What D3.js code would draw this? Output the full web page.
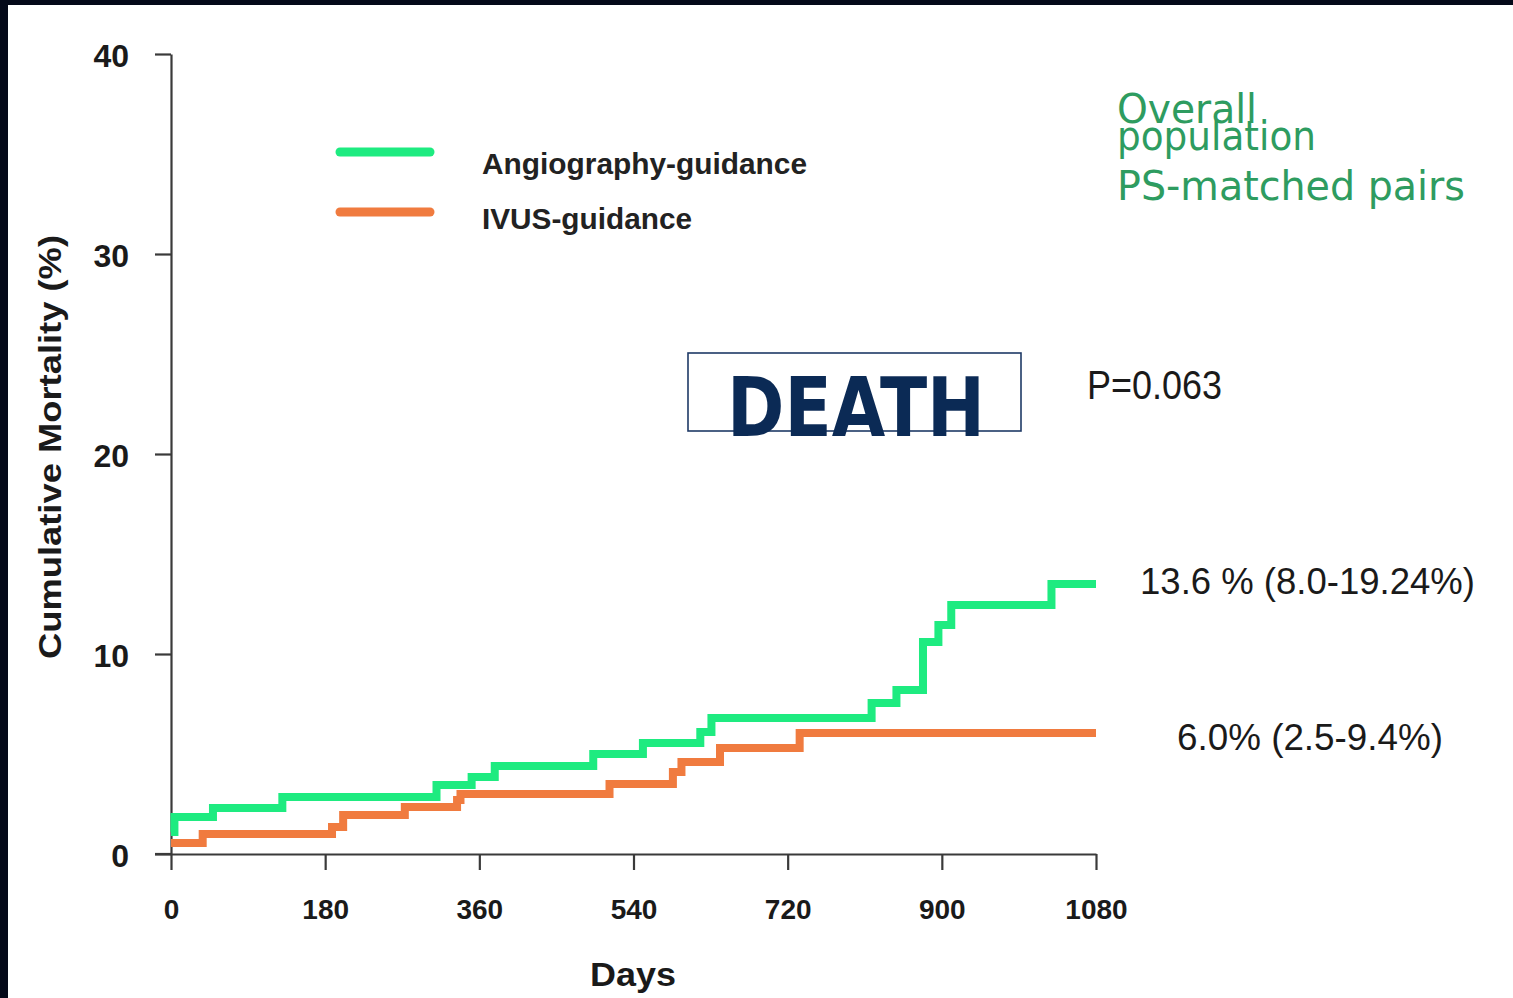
<!DOCTYPE html>
<html><head><meta charset="utf-8">
<script src="https://cdn.jsdelivr.net/npm/d3@7"></script>
<style>
html,body{margin:0;padding:0;background:#fff;overflow:hidden}
svg{display:block}
</style></head>
<body>
<svg id="chart" width="1513" height="998"></svg>
<script>
// ---- data ----
const xTicks = [0, 180, 360, 540, 720, 900, 1080];
const yTicks = [0, 10, 20, 30, 40];
const angioDays = [0, 4, 49, 130, 310, 351, 378, 493, 551, 618, 631, 818, 847, 878, 896, 911, 1028, 1080];
const angioVals = [1.1, 1.85, 2.3, 2.85, 3.45, 3.85, 4.4, 5.0, 5.55, 6.1, 6.8, 7.55, 8.2, 10.6, 11.45, 12.45, 13.5, 13.5];
const ivusDays = [0, 37, 188, 201, 273, 334, 338, 512, 586, 596, 641, 734, 1080];
const ivusVals = [0.55, 1.0, 1.35, 1.95, 2.35, 2.7, 3.0, 3.5, 4.1, 4.6, 5.3, 6.05, 6.05];
const seriesNames = ["Angiography-guidance", "IVUS-guidance"];
const seriesColors = ["#1EEB80", "#F07B3F"];
const endLabels = ["13.6 % (8.0-19.24%)", "6.0% (2.5-9.4%)"];
const pValue = "P=0.063";
const titleBox = "DEATH";
const noteLines = ["Overall", "population", "PS-matched pairs"];

const svg = d3.select("#chart");
// dark frame on top and left
svg.append("rect").attr("x",0).attr("y",0).attr("width",1513).attr("height",5).attr("fill","#040919");
svg.append("rect").attr("x",0).attr("y",0).attr("width",8).attr("height",998).attr("fill","#040919");

const x = d3.scaleLinear().domain([0,1080]).range([171,1096]);
const y = d3.scaleLinear().domain([0,40]).range([854,54]);

const axisColor = "#3a3a3a";
const gy = svg.append("g").attr("transform","translate(171,0)")
  .call(d3.axisLeft(y).tickValues(yTicks).tickSize(16).tickSizeOuter(0).tickPadding(26));
gy.select(".domain").attr("stroke",axisColor).attr("stroke-width",2.2);
gy.selectAll(".tick line").attr("stroke",axisColor).attr("stroke-width",2.2);
gy.selectAll(".tick text").attr("font-family","Liberation Sans, Arial, sans-serif")
  .attr("font-weight","bold").attr("font-size",32).attr("fill","#1a1a1a").attr("dy","0.4em");

const gx = svg.append("g").attr("transform","translate(0,854)")
  .call(d3.axisBottom(x).tickValues(xTicks).tickFormat(d3.format("d")).tickSize(16).tickSizeOuter(0).tickPadding(29));
gx.select(".domain").attr("stroke",axisColor).attr("stroke-width",2.2);
gx.selectAll(".tick line").attr("stroke",axisColor).attr("stroke-width",2.2);
gx.selectAll(".tick text").attr("font-family","Liberation Sans, Arial, sans-serif")
  .attr("font-weight","bold").attr("font-size",28).attr("fill","#1a1a1a").attr("dy","0.71em");
// extend x axis line to the left like the reference
svg.append("line").attr("x1",155).attr("x2",171).attr("y1",854).attr("y2",854)
  .attr("stroke",axisColor).attr("stroke-width",2.2);

// axis titles
svg.append("text").attr("transform","translate(61,447) rotate(-90)")
  .attr("text-anchor","middle").attr("font-family","Liberation Sans, Arial, sans-serif")
  .attr("font-size",32).attr("fill","#1a1a1a").attr("font-weight","bold")
  .attr("textLength",424).attr("lengthAdjust","spacingAndGlyphs")
  .text("Cumulative Mortality (%)");
svg.append("text").attr("x",633).attr("y",986).attr("text-anchor","middle")
  .attr("font-family","Liberation Sans, Arial, sans-serif").attr("font-weight","bold")
  .attr("font-size",34).attr("fill","#1a1a1a")
  .attr("textLength",86).attr("lengthAdjust","spacingAndGlyphs").text("Days");

// curves
const line = d3.line().x(d=>x(d[0])).y(d=>y(d[1])).curve(d3.curveStepAfter);
const series = [d3.zip(angioDays, angioVals), d3.zip(ivusDays, ivusVals)];
// draw orange first, green on top
[1,0].forEach(i=>{
  svg.append("path").datum(series[i]).attr("d",line)
    .attr("fill","none").attr("stroke",seriesColors[i]).attr("stroke-width",8)
    .attr("stroke-linejoin","miter");
});

// legend
const legY = [152, 212];
const legTextY = [174, 229];
const legLen = [325, 210];
seriesNames.forEach((n,i)=>{
  svg.append("line").attr("x1",340).attr("x2",430).attr("y1",legY[i]).attr("y2",legY[i])
    .attr("stroke",seriesColors[i]).attr("stroke-width",9).attr("stroke-linecap","round");
  svg.append("text").attr("x",482).attr("y",legTextY[i])
    .attr("font-family","Liberation Sans, Arial, sans-serif").attr("font-weight","bold")
    .attr("font-size",29).attr("fill","#222")
    .attr("textLength",legLen[i]).attr("lengthAdjust","spacingAndGlyphs").text(n);
});

// DEATH box
svg.append("rect").attr("x",688).attr("y",353).attr("width",333).attr("height",78)
  .attr("fill","none").attr("stroke","#1F3A66").attr("stroke-width",1.6);
svg.append("text").attr("x",727).attr("y",436)
  .attr("font-family","'Comic Sans MS', 'DejaVu Sans', sans-serif").attr("font-weight","bold")
  .attr("font-size",82).attr("fill","#0B2A55")
  .attr("textLength",258).attr("lengthAdjust","spacingAndGlyphs").text(titleBox);

// P value
svg.append("text").attr("x",1087).attr("y",399)
  .attr("font-family","Liberation Sans, Arial, sans-serif")
  .attr("font-size",40).attr("fill","#1a1a1a")
  .attr("textLength",135).attr("lengthAdjust","spacingAndGlyphs").text(pValue);

// end labels
const endX = [1140, 1177], endY = [594, 750], endLen = [335, 266];
endLabels.forEach((t,i)=>{
  svg.append("text").attr("x",endX[i]).attr("y",endY[i])
    .attr("font-family","Liberation Sans, Arial, sans-serif")
    .attr("font-size",36).attr("fill","#1a1a1a")
    .attr("textLength",endLen[i]).attr("lengthAdjust","spacingAndGlyphs").text(t);
});

// green note
const noteY = [123, 150, 200], noteLen = [140, 199, 348];
noteLines.forEach((t,i)=>{
  svg.append("text").attr("x",1117).attr("y",noteY[i])
    .attr("font-family","'Comic Sans MS', 'DejaVu Sans', sans-serif")
    .attr("font-size",40).attr("fill","#2E9C60")
    .attr("textLength",noteLen[i]).attr("lengthAdjust","spacingAndGlyphs").text(t);
});
</script>
</body></html>
